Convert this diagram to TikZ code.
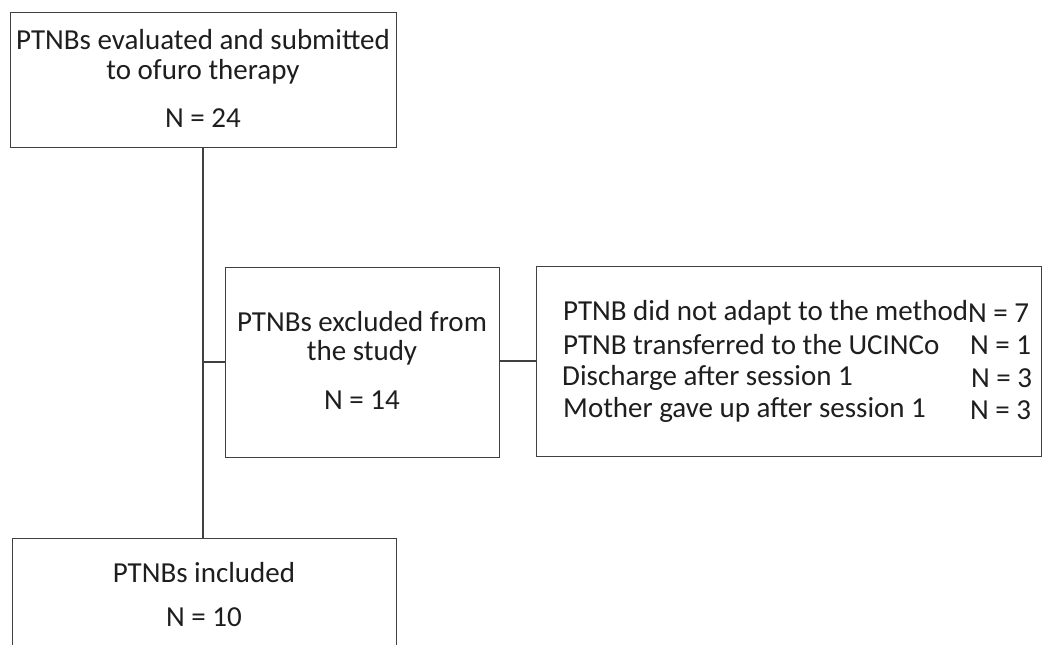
\documentclass[tikz,border=0pt]{standalone}
\usepackage{fontspec}
\setmainfont{Carlito}
\begin{document}
\begin{tikzpicture}[x=1pt,y=-1pt,
  box/.style={draw=boxgray,line width=1.4pt,rectangle,inner sep=0pt,anchor=north west},
  txt/.style={text=txtcol,font=\fontsize{29}{33}\selectfont,inner sep=0pt},
  link/.style={draw=boxgray,line width=1.4pt}]
\definecolor{boxgray}{HTML}{404040}
\definecolor{txtcol}{HTML}{1E1E1E}
\useasboundingbox (0,0) rectangle (1047,645);
\clip (0,0) rectangle (1047,645);
\fill[white] (0,0) rectangle (1047,645);
% boxes
\node[box,minimum width=386pt,minimum height=135pt] (top) at (10,12) {};
\node[box,minimum width=274pt,minimum height=190pt] (mid) at (225,267) {};
\node[box,minimum width=505pt,minimum height=190pt] (right) at (536,266) {};
\node[box,minimum width=384pt,minimum height=140pt] (bot) at (12,538) {};
% texts
\node[txt] (t1) at (203,40) {PTNBs evaluated and submitted};
\node[txt] (t2) at (203,72) {to ofuro therapy};
\node[txt] (t3) at (203,118) {N = 24};
\node[txt] (m1) at (362,322) {PTNBs excluded from};
\node[txt] (m2) at (362,353) {the study};
\node[txt] (m3) at (362,400) {N = 14};
\node[txt,anchor=west] (r1) at (563,313) {PTNB did not adapt to the method};
\node[txt,anchor=west] (r2) at (563,345) {PTNB transferred to the UCINCo};
\node[txt,anchor=west] (r3) at (562,378) {Discharge after session 1};
\node[txt,anchor=west] (r4) at (563,410) {Mother gave up after session 1};
\node[txt,anchor=west] (n1) at (968,313) {N = 7};
\node[txt,anchor=west] (n2) at (970,345) {N = 1};
\node[txt,anchor=west] (n3) at (971,378) {N = 3};
\node[txt,anchor=west] (n4) at (970,410) {N = 3};
\node[txt] (b1) at (204,573) {PTNBs included};
\node[txt] (b2) at (204,617) {N = 10};
% connectors
\coordinate (j) at (203,362);
\draw[link] (top.south -| j) -- (bot.north -| j);
\draw[link,line width=2pt] (j) -- (mid.west |- j);
\draw[link] (mid.east |- 0,361) -- (right.west |- 0,361);
\end{tikzpicture}
\end{document}
